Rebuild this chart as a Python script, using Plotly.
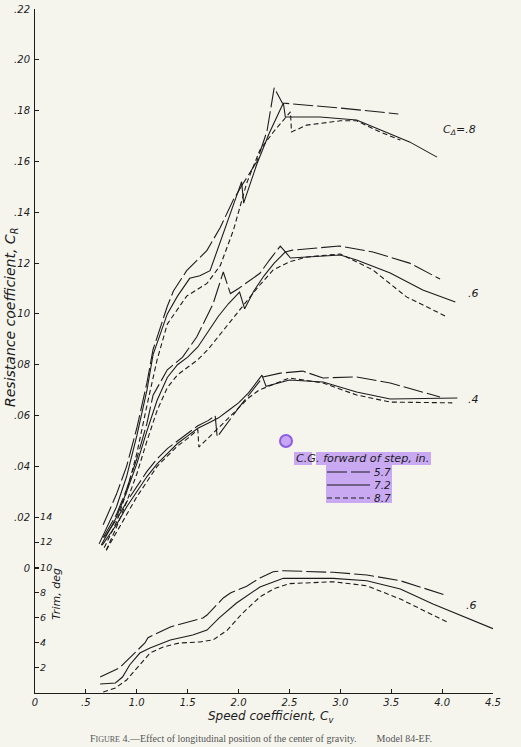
import plotly.graph_objects as go

# ---------------- data ----------------
# Resistance coefficient C_R vs speed coefficient C_V, load C_Delta = .8
cv_r8_57 = [0.67, 0.8, 0.9, 1.0, 1.1, 1.16, 1.3, 1.36, 1.49, 1.69, 1.82, 1.95, 2.04, 2.18, 2.28, 2.35, 2.43, 3.0, 3.57]
cr_r8_57 = [0.017, 0.029, 0.040, 0.055, 0.073, 0.086, 0.103, 0.109, 0.117, 0.125, 0.134, 0.145, 0.151, 0.160, 0.172, 0.189, 0.183, 0.181, 0.1787]
cv_r8_72 = [0.63, 0.8, 0.9, 1.0, 1.1, 1.16, 1.3, 1.4, 1.52, 1.62, 1.72, 1.82, 1.95, 2.03, 2.05, 2.18, 2.3, 2.44, 2.46, 2.8, 3.16, 3.42, 3.68, 3.95]
cr_r8_72 = [0.0095, 0.024, 0.036, 0.052, 0.070, 0.084, 0.100, 0.107, 0.114, 0.115, 0.117, 0.128, 0.143, 0.152, 0.1436, 0.159, 0.171, 0.183, 0.1775, 0.1775, 0.1763, 0.172, 0.1677, 0.1617]
cv_r8_87 = [0.68, 0.8, 0.9, 1.0, 1.1, 1.2, 1.3, 1.49, 1.69, 1.82, 1.95, 2.01, 2.08, 2.21, 2.35, 2.51, 2.52, 2.67, 3.0, 3.16, 3.39, 3.59]
cr_r8_87 = [0.008, 0.018, 0.030, 0.045, 0.064, 0.082, 0.096, 0.107, 0.112, 0.119, 0.133, 0.142, 0.1515, 0.1645, 0.172, 0.1795, 0.1716, 0.1743, 0.176, 0.176, 0.1716, 0.1684]

# C_Delta = .6
cv_r6_57 = [0.67, 0.8, 0.9, 1.0, 1.1, 1.16, 1.3, 1.45, 1.59, 1.75, 1.85, 1.92, 2.0, 2.1, 2.21, 2.3, 2.41, 2.46, 2.53, 2.99, 3.32, 3.68, 3.98]
cr_r6_57 = [0.012, 0.021, 0.031, 0.043, 0.057, 0.068, 0.078, 0.083, 0.091, 0.104, 0.1165, 0.108, 0.110, 0.113, 0.116, 0.121, 0.1267, 0.1244, 0.1251, 0.1267, 0.1244, 0.120, 0.1137]
cv_r6_72 = [0.65, 0.8, 0.9, 1.0, 1.1, 1.2, 1.3, 1.4, 1.5, 1.6, 1.7, 1.8, 1.9, 2.01, 2.06, 2.15, 2.25, 2.35, 2.46, 2.51, 3.0, 3.16, 3.49, 3.81, 4.13]
cr_r6_72 = [0.009, 0.020, 0.030, 0.041, 0.054, 0.066, 0.075, 0.080, 0.083, 0.087, 0.093, 0.099, 0.104, 0.1086, 0.102, 0.109, 0.115, 0.120, 0.1244, 0.122, 0.1232, 0.1212, 0.1161, 0.1094, 0.1047]
cv_r6_87 = [0.7, 0.8, 0.9, 1.0, 1.1, 1.2, 1.3, 1.4, 1.5, 1.6, 1.7, 1.8, 1.9, 2.04, 2.2, 2.34, 2.5, 2.67, 3.0, 3.32, 3.65, 4.05]
cr_r6_87 = [0.007, 0.016, 0.026, 0.037, 0.050, 0.062, 0.071, 0.076, 0.079, 0.082, 0.086, 0.091, 0.096, 0.1027, 0.111, 0.1173, 0.1205, 0.1224, 0.1236, 0.1173, 0.1067, 0.0988]

# C_Delta = .4
cv_r4_57 = [0.68, 0.8, 0.9, 1.0, 1.1, 1.2, 1.3, 1.4, 1.5, 1.6, 1.7, 1.77, 1.79, 1.85, 2.0, 2.1, 2.24, 2.41, 2.63, 2.83, 3.16, 3.49, 3.98]
cr_r4_57 = [0.012, 0.019, 0.026, 0.032, 0.038, 0.043, 0.047, 0.050, 0.053, 0.056, 0.058, 0.060, 0.0516, 0.055, 0.063, 0.068, 0.0752, 0.0767, 0.0775, 0.0748, 0.0752, 0.0728, 0.0673]
cv_r4_72 = [0.66, 0.8, 0.9, 1.0, 1.1, 1.2, 1.3, 1.4, 1.5, 1.6, 1.7, 1.8, 1.9, 2.0, 2.1, 2.23, 2.27, 2.5, 2.83, 3.16, 3.49, 4.15]
cr_r4_72 = [0.009, 0.017, 0.024, 0.030, 0.036, 0.041, 0.045, 0.049, 0.052, 0.055, 0.057, 0.059, 0.062, 0.065, 0.069, 0.0759, 0.0715, 0.074, 0.0732, 0.0693, 0.0665, 0.0669]
cv_r4_87 = [0.7, 0.8, 0.9, 1.0, 1.1, 1.2, 1.3, 1.4, 1.5, 1.6, 1.61, 1.7, 1.8, 1.9, 2.0, 2.1, 2.2, 2.28, 2.5, 2.83, 3.16, 3.49, 4.1]
cr_r4_87 = [0.007, 0.014, 0.021, 0.028, 0.034, 0.040, 0.044, 0.048, 0.051, 0.0545, 0.0476, 0.051, 0.055, 0.059, 0.063, 0.067, 0.070, 0.0712, 0.0748, 0.0728, 0.0681, 0.0653, 0.065]

# Trim (deg) vs C_V, C_Delta = .6
cv_t6_57 = [0.64, 0.83, 0.88, 1.08, 1.11, 1.33, 1.39, 1.65, 1.69, 1.85, 1.92, 2.08, 2.21, 2.34, 2.44, 2.93, 3.26, 3.59, 4.03]
tr_t6_57 = [1.27, 2.0, 2.4, 3.98, 4.4, 5.25, 5.4, 5.97, 6.2, 7.56, 7.96, 8.5, 9.15, 9.65, 9.73, 9.6, 9.39, 8.93, 7.8]
cv_t6_72 = [0.64, 0.79, 0.86, 0.93, 1.03, 1.13, 1.33, 1.55, 1.69, 1.81, 1.98, 2.21, 2.44, 2.93, 3.26, 3.59, 3.91, 4.24, 4.5]
tr_t6_72 = [0.72, 0.8, 1.27, 2.23, 3.18, 3.58, 4.22, 4.61, 5.0, 5.97, 7.16, 8.43, 9.12, 9.12, 8.93, 8.27, 7.07, 6.0, 5.12]
cv_t6_87 = [0.67, 0.79, 0.9, 1.03, 1.13, 1.26, 1.42, 1.62, 1.75, 1.89, 2.04, 2.21, 2.35, 2.5, 2.93, 3.26, 3.59, 4.05]
tr_t6_87 = [0.08, 0.4, 1.03, 2.23, 3.18, 3.66, 3.98, 4.06, 4.22, 5.0, 6.36, 7.64, 8.3, 8.7, 8.85, 8.53, 7.47, 5.65]

x_tickvals = [0, 0.5, 1.0, 1.5, 2.0, 2.5, 3.0, 3.5, 4.0, 4.5]
x_ticktext = ["0", ".5", "1.0", "1.5", "2.0", "2.5", "3.0", "3.5", "4.0", "4.5"]
cr_tickvals = [0, 0.02, 0.04, 0.06, 0.08, 0.10, 0.12, 0.14, 0.16, 0.18, 0.20, 0.22]
cr_ticktext = ["0", ".02", ".04", ".06", ".08", ".10", ".12", ".14", ".16", ".18", ".20", ".22"]
trim_tickvals = [2, 4, 6, 8, 10, 12, 14]
trim_ticktext = ["2", "4", "6", "8", "10", "12", "14"]

cg_labels = ["5.7", "7.2", "8.7"]

# ---------------- styling ----------------
BG = "#f5f5ee"
INK = "#1c1c1c"
DASH = {"5.7": "20px,4px", "7.2": "solid", "8.7": "5px,3px"}
FAM = "DejaVu Sans"
FONT = dict(family=FAM, size=10, color=INK, style="italic")

fig = go.Figure()


def add(cv, val, cg, yaxis, group):
    fig.add_trace(go.Scatter(
        x=cv, y=val, mode="lines", yaxis=yaxis,
        name=f"{group}, C.G. {cg} in.",
        line=dict(color=INK, width=1.1, dash=DASH[cg]),
        showlegend=False, hoverinfo="skip"))


for cg, (cv, cr) in zip(cg_labels, [(cv_r8_57, cr_r8_57), (cv_r8_72, cr_r8_72), (cv_r8_87, cr_r8_87)]):
    add(cv, cr, cg, "y", "C_R .8")
for cg, (cv, cr) in zip(cg_labels, [(cv_r6_57, cr_r6_57), (cv_r6_72, cr_r6_72), (cv_r6_87, cr_r6_87)]):
    add(cv, cr, cg, "y", "C_R .6")
for cg, (cv, cr) in zip(cg_labels, [(cv_r4_57, cr_r4_57), (cv_r4_72, cr_r4_72), (cv_r4_87, cr_r4_87)]):
    add(cv, cr, cg, "y", "C_R .4")
for cg, (cv, tr) in zip(cg_labels, [(cv_t6_57, tr_t6_57), (cv_t6_72, tr_t6_72), (cv_t6_87, tr_t6_87)]):
    add(cv, tr, cg, "y2", "Trim .6")

# plot area in pixels: x 35..493, y 9..693
L, R, T, B = 35, 493, 9, 693


def pxx(xp):
    return (xp - L) / (R - L)


def pxy(yp):
    return (B - yp) / (B - T)


fig.update_layout(
    width=521, height=747,
    margin=dict(l=L, r=521 - R, t=T, b=747 - B, autoexpand=False),
    paper_bgcolor=BG, plot_bgcolor=BG,
    showlegend=False,
    xaxis=dict(range=[0, 4.5], tickvals=x_tickvals, ticktext=x_ticktext,
               ticks="inside", ticklen=4, tickcolor=INK, showline=True,
               linecolor=INK, linewidth=1, showgrid=False, zeroline=False,
               tickfont=dict(FONT, size=10), fixedrange=True, automargin=False,
               ticklabeloverflow="allow"),
    yaxis=dict(range=[-0.04919, 0.22], tickvals=cr_tickvals, ticktext=cr_ticktext,
               ticks="inside", ticklen=4, tickcolor=INK, showline=True,
               linecolor=INK, linewidth=1, showgrid=False, zeroline=False,
               tickfont=FONT, ticklabelstandoff=2, automargin=False,
               ticklabeloverflow="allow", fixedrange=True),
    yaxis2=dict(range=[0, 54.41], overlaying="y", side="left",
                tickvals=trim_tickvals, ticktext=trim_ticktext,
                ticks="inside", ticklen=4, tickcolor=INK,
                ticklabelposition="inside", showline=False, showgrid=False,
                zeroline=False, tickfont=dict(FONT, size=9.5), automargin=False,
                ticklabeloverflow="allow", fixedrange=True),
)

C = dict(xanchor="center", yanchor="middle", showarrow=False)
ann = []
# axis titles
ann.append(dict(text="Resistance coefficient, C<sub>R</sub>", x=pxx(11), y=pxy(318),
                xref="paper", yref="paper", textangle=-90, font=dict(FONT, size=14), **C))
ann.append(dict(text="Trim, deg", x=pxx(56), y=pxy(594), xref="paper", yref="paper",
                textangle=-90, font=dict(FONT, size=11), **C))
ann.append(dict(text="Speed coefficient, C<sub>v</sub>", x=pxx(271), y=pxy(717),
                xref="paper", yref="paper", font=dict(FONT, size=12), **C))
ann.append(dict(text="F<span style='font-size:8px'>IGURE</span> 4.\u2014Effect of longitudinal position of the center of gravity.\u2003\u2003Model 84-EF.",
                x=pxx(261), y=pxy(738), xref="paper", yref="paper",
                font=dict(family="Liberation Serif", size=10, color="#555"), **C))
# curve group labels
ann.append(dict(text="C<sub>\u0394</sub>=.8", x=4.17, y=0.1724, xref="x", yref="y",
                font=dict(FONT, size=11), **C))
ann.append(dict(text=".6", x=4.31, y=0.1082, xref="x", yref="y", font=dict(FONT, size=11), **C))
ann.append(dict(text=".4", x=4.31, y=0.0665, xref="x", yref="y", font=dict(FONT, size=11), **C))
ann.append(dict(text=".6", x=4.29, y=7.0, xref="x", yref="y2", font=dict(FONT, size=11), **C))

shapes = []
HL = "#c9a9f2"
# highlight boxes around the key (as in the reference)
for (x0, y0, x1, y1) in [(294, 452, 312, 465), (316, 452, 431, 465), (326, 465, 392, 503)]:
    shapes.append(dict(type="rect", xref="paper", yref="paper", x0=pxx(x0), x1=pxx(x1),
                       y0=pxy(y1), y1=pxy(y0), fillcolor=HL, line=dict(width=0), layer="below"))
shapes.append(dict(type="circle", xref="paper", yref="paper", x0=pxx(280), x1=pxx(292),
                   y0=pxy(447), y1=pxy(435), fillcolor="#c6a6f5",
                   line=dict(color="#8c5ce6", width=2)))

# key
ann.append(dict(text="C.G. forward of step, in.", x=pxx(362), y=pxy(458.5), xref="paper",
                yref="paper", font=dict(FONT, size=11.2), **C))
for cg, yk in zip(cg_labels, [472, 485, 498]):
    shapes.append(dict(type="line", xref="paper", yref="paper", x0=pxx(327), x1=pxx(370),
                       y0=pxy(yk), y1=pxy(yk), line=dict(color=INK, width=1.1, dash=DASH[cg])))
    ann.append(dict(text=cg, x=pxx(372), y=pxy(yk), xref="paper", yref="paper",
                    xanchor="left", yanchor="middle", showarrow=False,
                    font=dict(FONT, size=10.5)))

fig.update_layout(annotations=ann, shapes=shapes)
fig.write_html("out.html", config={"displayModeBar": False},
               post_script="document.body.style.margin='0px';")
